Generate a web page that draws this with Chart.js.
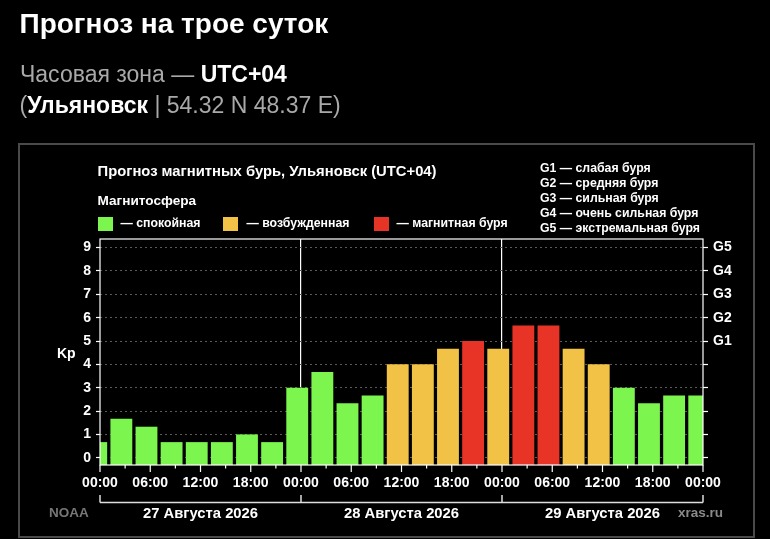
<!DOCTYPE html>
<html lang="ru">
<head>
<meta charset="utf-8">
<script src="https://cdn.jsdelivr.net/npm/chart.js@4.4.0/dist/chart.umd.min.js"></script>
<style>
html, body { margin: 0; padding: 0; background: #000; }
body { width: 770px; height: 539px; position: relative; overflow: hidden;
       font-family: "Liberation Sans", Arial, sans-serif; color: #fff; }
.t { position: absolute; white-space: nowrap; line-height: 1; }
.b { font-weight: bold; }
.grey { color: #a9a9a9; }
.sq { position: absolute; width: 15px; height: 14px; top: 217px; }
#panel { position: absolute; left: 18px; top: 143px; width: 737px; height: 395px;
         border: 2px solid #4a4a4a; box-sizing: border-box; }
#chart { position: absolute; left: 0; top: 0; }
</style>
</head>
<body>
<div id="panel"></div>
<canvas id="chart" width="770" height="539"></canvas>

<div class="t b" style="left:19.5px;top:9.6px;font-size:28px;">Прогноз на трое суток</div>
<div class="t grey" style="left:20px;top:63.2px;font-size:23px;">Часовая зона — <span class="b" style="color:#fff">UTC+04</span></div>
<div class="t grey" style="left:19.5px;top:93.8px;font-size:23px;">(<span class="b" style="color:#fff">Ульяновск</span> | 54.32 N 48.37 E)</div>

<div class="t b" style="left:97.5px;top:164.2px;font-size:14.8px;">Прогноз магнитных бурь, Ульяновск (UTC+04)</div>
<div class="t b" style="left:97.5px;top:194.2px;font-size:13.6px;">Магнитосфера</div>

<div class="sq" style="left:98px;background:#7cf64e;"></div>
<div class="t b" style="left:120.5px;top:216.9px;font-size:12.3px;">— спокойная</div>
<div class="sq" style="left:223px;background:#f2c246;"></div>
<div class="t b" style="left:246.5px;top:216.9px;font-size:12.3px;">— возбужденная</div>
<div class="sq" style="left:374px;background:#e73426;"></div>
<div class="t b" style="left:396.5px;top:216.9px;font-size:12.3px;">— магнитная буря</div>

<div class="t b" style="left:540px;top:160.5px;font-size:12.3px;line-height:15px;">
G1 — слабая буря<br>G2 — средняя буря<br>G3 — сильная буря<br>G4 — очень сильная буря<br>G5 — экстремальная буря
</div>

<div class="t b" style="left:57px;top:346.4px;font-size:14px;">Kp</div>
<div class="t b" style="left:49px;top:506.3px;font-size:13.5px;color:#777;">NOAA</div>
<div class="t b" style="left:678px;top:506.3px;font-size:13.5px;color:#8a8a8a;">xras.ru</div>

<script>
// Kp forecast, one value per 3-hour slot (hours from 27 Aug 00:00, UTC+04)
const barHours = [0, 3, 6, 9, 12, 15, 18, 21, 24, 27, 30, 33, 36, 39, 42, 45, 48, 51, 54, 57, 60, 63, 66, 69, 72];
const kp = [0.67, 1.67, 1.33, 0.67, 0.67, 0.67, 1.0, 0.67,
            3.0, 3.67, 2.33, 2.67, 4.0, 4.0, 4.67, 5.0,
            4.67, 5.67, 5.67, 4.67, 4.0, 3.0, 2.33, 2.67, 2.67];

const xTickHours = [0, 6, 12, 18, 24, 30, 36, 42, 48, 54, 60, 66, 72];
const xTickLabels = ['00:00', '06:00', '12:00', '18:00', '00:00', '06:00', '12:00',
                     '18:00', '00:00', '06:00', '12:00', '18:00', '00:00'];
const dayBounds = [0, 24, 48, 72];
const dayCenters = [12, 36, 60];
const dayLabels = ['27 Августа 2026', '28 Августа 2026', '29 Августа 2026'];

const kpTicks = [0, 1, 2, 3, 4, 5, 6, 7, 8, 9];
const gTicks = [5, 6, 7, 8, 9];
const gLabels = ['G1', 'G2', 'G3', 'G4', 'G5'];

const yMin = -0.31, yMax = 9.37;
const barShift = -0.45;   // bars sit a little left of the slot tick

function kpColor(v) {
  if (v >= 5) return '#e73426';
  if (v >= 4) return '#f2c246';
  return '#7cf64e';
}

const tickFont = { family: 'Liberation Sans', size: 14, weight: 'bold' };

// frame around the plot, small x ticks and the day brackets
const framePlugin = {
  id: 'frame',
  afterDatasetsDraw(chart) {
    const { ctx, chartArea: a } = chart;
    const x = chart.scales.x;
    ctx.save();
    ctx.strokeStyle = '#fff';
    ctx.lineWidth = 1.2;
    ctx.strokeRect(a.left, a.top, a.right - a.left, a.bottom - a.top);

    ctx.beginPath();
    barHours.forEach(h => {
      const px = x.getPixelForValue(h);
      const len = h % 6 === 0 ? 7 : 3.5;
      ctx.moveTo(px, a.bottom);
      ctx.lineTo(px, a.bottom + len);
    });
    ctx.stroke();

    const yb = a.bottom + 37.5;
    ctx.strokeStyle = '#ddd';
    ctx.lineWidth = 1.5;
    ctx.beginPath();
    ctx.moveTo(x.getPixelForValue(0), yb);
    ctx.lineTo(x.getPixelForValue(72), yb);
    dayBounds.forEach(h => {
      const px = x.getPixelForValue(h);
      ctx.moveTo(px, yb);
      ctx.lineTo(px, yb - 7.5);
    });
    ctx.stroke();
    ctx.restore();
  }
};

new Chart(document.getElementById('chart'), {
  type: 'bar',
  data: {
    datasets: [{
      label: 'Kp',
      data: barHours.map((h, i) => ({ x: h + barShift, y: kp[i] })),
      backgroundColor: kp.map(kpColor),
      borderWidth: 0,
      barPercentage: 0.87,
      categoryPercentage: 1,
      base: yMin,
      clip: 0
    }]
  },
  options: {
    responsive: false,
    animation: false,
    layout: { padding: { top: 239, left: 0, right: 0, bottom: 0 } },
    plugins: { legend: { display: false }, tooltip: { enabled: false } },
    scales: {
      x: {
        type: 'linear', position: 'bottom', min: 0, max: 72, offset: false,
        afterBuildTicks: s => { s.ticks = xTickHours.map(v => ({ value: v })); },
        afterFit: s => { s.height = 30; },
        ticks: {
          autoSkip: false, maxRotation: 0, minRotation: 0,
          color: '#fff', font: tickFont, padding: 10,
          callback: (v, i) => xTickLabels[i]
        },
        grid: {
          offset: false, drawTicks: false, lineWidth: 1.2,
          color: c => (c.tick && (c.tick.value === 24 || c.tick.value === 48)) ? '#fff' : 'rgba(0,0,0,0)'
        },
        border: { display: false }
      },
      x2: {
        type: 'linear', position: 'bottom', min: 0, max: 72, offset: false,
        afterBuildTicks: s => { s.ticks = dayCenters.map(v => ({ value: v })); },
        afterFit: s => { s.height = 44; },
        ticks: {
          autoSkip: false, maxRotation: 0, minRotation: 0,
          color: '#fff', font: { family: 'Liberation Sans', size: 14.8, weight: 'bold' }, padding: 10,
          callback: (v, i) => dayLabels[i]
        },
        grid: { display: false, drawTicks: false, offset: false },
        border: { display: false }
      },
      y: {
        type: 'linear', position: 'left', min: yMin, max: yMax,
        afterBuildTicks: s => { s.ticks = kpTicks.map(v => ({ value: v })); },
        afterFit: s => { s.width = 100; },
        ticks: { color: '#fff', font: tickFont, padding: 5 },
        grid: { color: '#5a5a5a', lineWidth: 1, tickLength: 4, tickColor: '#fff', tickWidth: 1.2, tickBorderDash: [] },
        border: { display: false, dash: [2, 3] }
      },
      y1: {
        type: 'linear', position: 'right', min: yMin, max: yMax,
        afterBuildTicks: s => { s.ticks = kpTicks.map(v => ({ value: v })); },
        afterFit: s => { s.width = 67; },
        ticks: {
          color: '#fff', font: tickFont, padding: 5,
          callback: v => { const k = gTicks.indexOf(v); return k >= 0 ? gLabels[k] : ''; }
        },
        grid: { drawOnChartArea: false, tickLength: 5, tickColor: '#fff', tickWidth: 1.2 },
        border: { display: false }
      }
    }
  },
  plugins: [framePlugin]
});
</script>
</body>
</html>
